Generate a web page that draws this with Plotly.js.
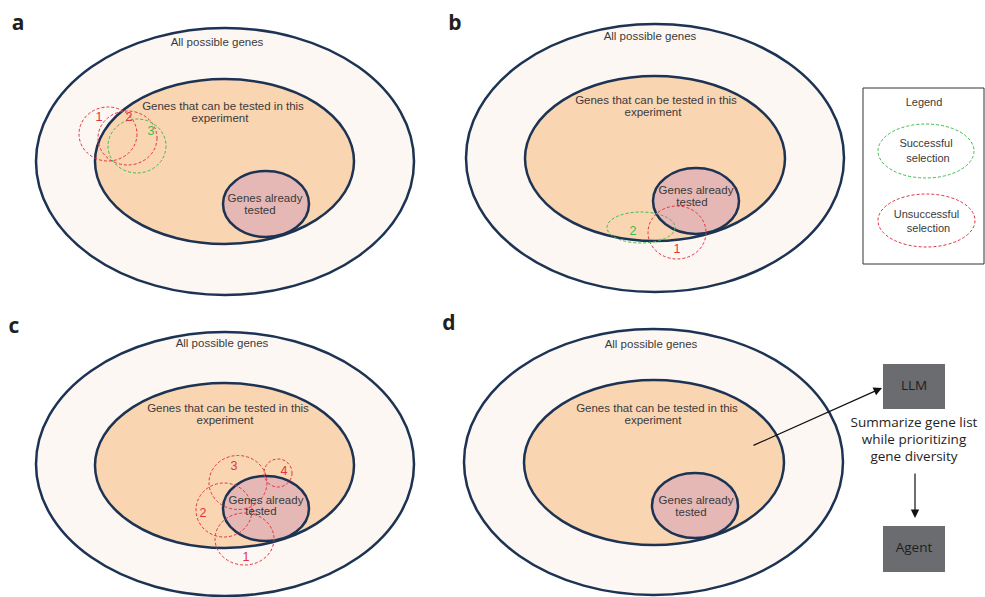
<!DOCTYPE html>
<html>
<head>
<meta charset="utf-8">
<script src="https://cdn.plot.ly/plotly-3.0.1.min.js"></script>
<style>html,body{margin:0;padding:0;background:#fff;}#chart{width:985px;height:597px;}</style>
</head>
<body>
<div id="chart"></div>
<script>
// ---- Panel letters ----
const panelLetters = ['a', 'b', 'c', 'd'];
const letterX = [18, 455, 14, 449];
const letterY = [25, 25, 328, 325];

// ---- "All possible genes" ellipses (one per panel) ----
const outerCx = [225, 655, 225, 653.5];
const outerCy = [161.5, 158, 464, 462];
const outerRx = [189, 189, 189, 189.5];
const outerRy = [133.5, 134, 132, 133];

// ---- "Genes that can be tested" ellipses ----
const innerCx = [224.5, 655, 224.5, 654];
const innerCy = [161.5, 158.5, 465.5, 462.5];
const innerRx = [129.5, 130, 129.5, 130];
const innerRy = [82.5, 82.5, 82.5, 82.5];

// ---- "Genes already tested" ellipses ----
const testedCx = [266, 696, 266, 695];
const testedCy = [204, 201, 508.5, 505.5];
const testedRx = [43, 43, 43, 43];
const testedRy = [33, 33, 32.5, 32.5];

// ---- Region labels ----
const allGenesLabel = 'All possible genes';
const allGenesX = [217, 650, 222, 651];
const allGenesY = [43, 37, 344, 345];
const testableLine1 = 'Genes that can be tested in this';
const testableLine2 = 'experiment';
const testable1X = [223, 656, 228, 657];
const testable1Y = [107, 101, 409, 409];
const testable2X = [220, 653, 225, 653];
const testable2Y = [119, 113, 421, 421];
const testedLine1 = 'Genes already';
const testedLine2 = 'tested';
const tested1X = [265, 696, 266, 696];
const tested1Y = [199, 191, 501, 501];
const tested2X = [260, 692, 261, 691];
const tested2Y = [211, 203, 512, 513];

// ---- Gene selections (dashed ellipses): label, outcome, centre, radii ----
const selLabel   = ['1', '2', '3', '1', '2', '1', '2', '3', '4'];
const selOutcome = ['fail', 'fail', 'success', 'fail', 'success', 'fail', 'fail', 'fail', 'fail'];
const selCx = [108, 127.5, 137, 677, 641, 244.5, 224, 238, 278];
const selCy = [134, 138, 146, 232.5, 227.5, 539, 510, 482.5, 473];
const selRx = [29, 29.5, 29, 29, 34, 29.5, 28, 29, 14];
const selRy = [27, 27, 27, 26.5, 15.5, 26, 27, 27, 14];
const selLabelX = [99, 129, 151, 677, 633, 246, 203, 234, 284];
const selLabelY = [118, 118, 132, 250, 232, 558, 514, 467, 472];

// ---- Legend ----
const legendTitle = 'Legend';
const legendBox = [863, 88, 984, 264];
const legendItems = [['Successful', 'selection'], ['Unsuccessful', 'selection']];
const legendOutcome = ['success', 'fail'];
const legendCx = [926, 926.5];
const legendCy = [151, 220.5];
const legendRx = [48, 48.5];
const legendRy = [27, 26.5];
const legendLine1Y = [144, 215];
const legendLine2Y = [159, 229];

// ---- Panel d flow ----
const boxLabels = ['LLM', 'Agent'];
const boxX0 = [883, 883];
const boxX1 = [945, 945];
const boxY0 = [364, 526];
const boxY1 = [409, 572];
const flowText = ['Summarize gene list', 'while prioritizing', 'gene diversity'];
const flowTextX = [914, 914, 914];
const flowTextY = [424, 441, 458];
const arrowTailX = [752, 915];
const arrowTailY = [446, 472];
const arrowTipX = [882, 915];
const arrowTipY = [388, 518];

// ---- Styles ----
const NAVY = '#1c3353';
const RED = '#e0343f';
const GREEN = '#3dbb4c';
const TEXT = '#3a3a3a';
const SANS = 'Liberation Sans, Arial, sans-serif';
const HUM = 'Open Sans, Noto Sans, sans-serif';
const DASH = '3px,2px';

function ellipse(cx, cy, rx, ry, fill, color, width, dash) {
  return {type: 'circle', xref: 'x', yref: 'y', layer: 'below',
          x0: cx - rx, x1: cx + rx, y0: cy - ry, y1: cy + ry,
          fillcolor: fill, line: {color: color, width: width, dash: dash || 'solid'}};
}

const shapes = [];
for (let i = 0; i < 4; i++) {
  shapes.push(ellipse(outerCx[i], outerCy[i], outerRx[i], outerRy[i], '#fdf7f3', NAVY, 2.5));
  shapes.push(ellipse(innerCx[i], innerCy[i], innerRx[i], innerRy[i], '#fad5b2', NAVY, 2.5));
  shapes.push(ellipse(testedCx[i], testedCy[i], testedRx[i], testedRy[i], '#e5b8b6', NAVY, 2.5));
}
for (let i = 0; i < selLabel.length; i++) {
  shapes.push(ellipse(selCx[i], selCy[i], selRx[i], selRy[i], 'rgba(0,0,0,0)',
              selOutcome[i] === 'success' ? GREEN : RED, 1, DASH));
}
shapes.push({type: 'rect', xref: 'x', yref: 'y', layer: 'below',
             x0: legendBox[0], y0: legendBox[1], x1: legendBox[2], y1: legendBox[3],
             fillcolor: '#ffffff', line: {color: '#333333', width: 1}});
for (let i = 0; i < legendItems.length; i++) {
  shapes.push(ellipse(legendCx[i], legendCy[i], legendRx[i], legendRy[i], 'rgba(0,0,0,0)',
              legendOutcome[i] === 'success' ? GREEN : RED, 1, DASH));
}
for (let i = 0; i < boxLabels.length; i++) {
  shapes.push({type: 'rect', xref: 'x', yref: 'y', layer: 'below',
               x0: boxX0[i], x1: boxX1[i], y0: boxY0[i], y1: boxY1[i],
               fillcolor: '#6b6c6f', line: {width: 0}});
}

function textTrace(xs, ys, texts, size, color, family) {
  return {type: 'scatter', mode: 'text', x: xs, y: ys, text: texts,
          textposition: 'middle center', hoverinfo: 'skip', showlegend: false,
          textfont: {size: size, color: color, family: family}};
}

const rep = (s, n) => Array(n).fill(s);
const traces = [
  textTrace(letterX, letterY, panelLetters.map(s => '<b>' + s + '</b>'), 21, '#231f20', HUM),
  textTrace(allGenesX, allGenesY, rep(allGenesLabel, 4), 11.5, TEXT, SANS),
  textTrace(testable1X, testable1Y, rep(testableLine1, 4), 11.5, TEXT, SANS),
  textTrace(testable2X, testable2Y, rep(testableLine2, 4), 11.5, TEXT, SANS),
  textTrace(tested1X, tested1Y, rep(testedLine1, 4), 11.5, TEXT, SANS),
  textTrace(tested2X, tested2Y, rep(testedLine2, 4), 11.5, TEXT, SANS),
  textTrace(selLabelX, selLabelY, selLabel, 12.5,
            selOutcome.map(o => o === 'success' ? GREEN : RED), SANS),
  textTrace([924], [103], [legendTitle], 11, TEXT, SANS),
  textTrace(legendCx, legendLine1Y, legendItems.map(l => l[0]), 11, TEXT, SANS),
  textTrace(legendCx.map(v => v + 2), legendLine2Y, legendItems.map(l => l[1]), 11, TEXT, SANS),
  textTrace(boxX0.map((v, i) => (v + boxX1[i]) / 2), boxY0.map((v, i) => (v + boxY1[i]) / 2),
            boxLabels, 13.5, '#1e1e1e', HUM),
  textTrace(flowTextX, flowTextY, flowText, 13.5, '#1e1e1e', HUM)
];

const annotations = arrowTipX.map((x, i) => ({
  x: x, y: arrowTipY[i], ax: arrowTailX[i], ay: arrowTailY[i],
  xref: 'x', yref: 'y', axref: 'x', ayref: 'y', text: '',
  showarrow: true, arrowhead: 2, arrowsize: 1.4, arrowwidth: 1.2, arrowcolor: '#111111'
}));

const layout = {
  width: 985, height: 597, autosize: false,
  margin: {l: 0, r: 0, t: 0, b: 0, pad: 0},
  paper_bgcolor: '#ffffff', plot_bgcolor: '#ffffff',
  showlegend: false,
  xaxis: {range: [0, 985], visible: false, fixedrange: true},
  yaxis: {range: [597, 0], visible: false, fixedrange: true},
  shapes: shapes,
  annotations: annotations
};

Plotly.newPlot('chart', traces, layout, {staticPlot: true, displayModeBar: false});
</script>
</body>
</html>
